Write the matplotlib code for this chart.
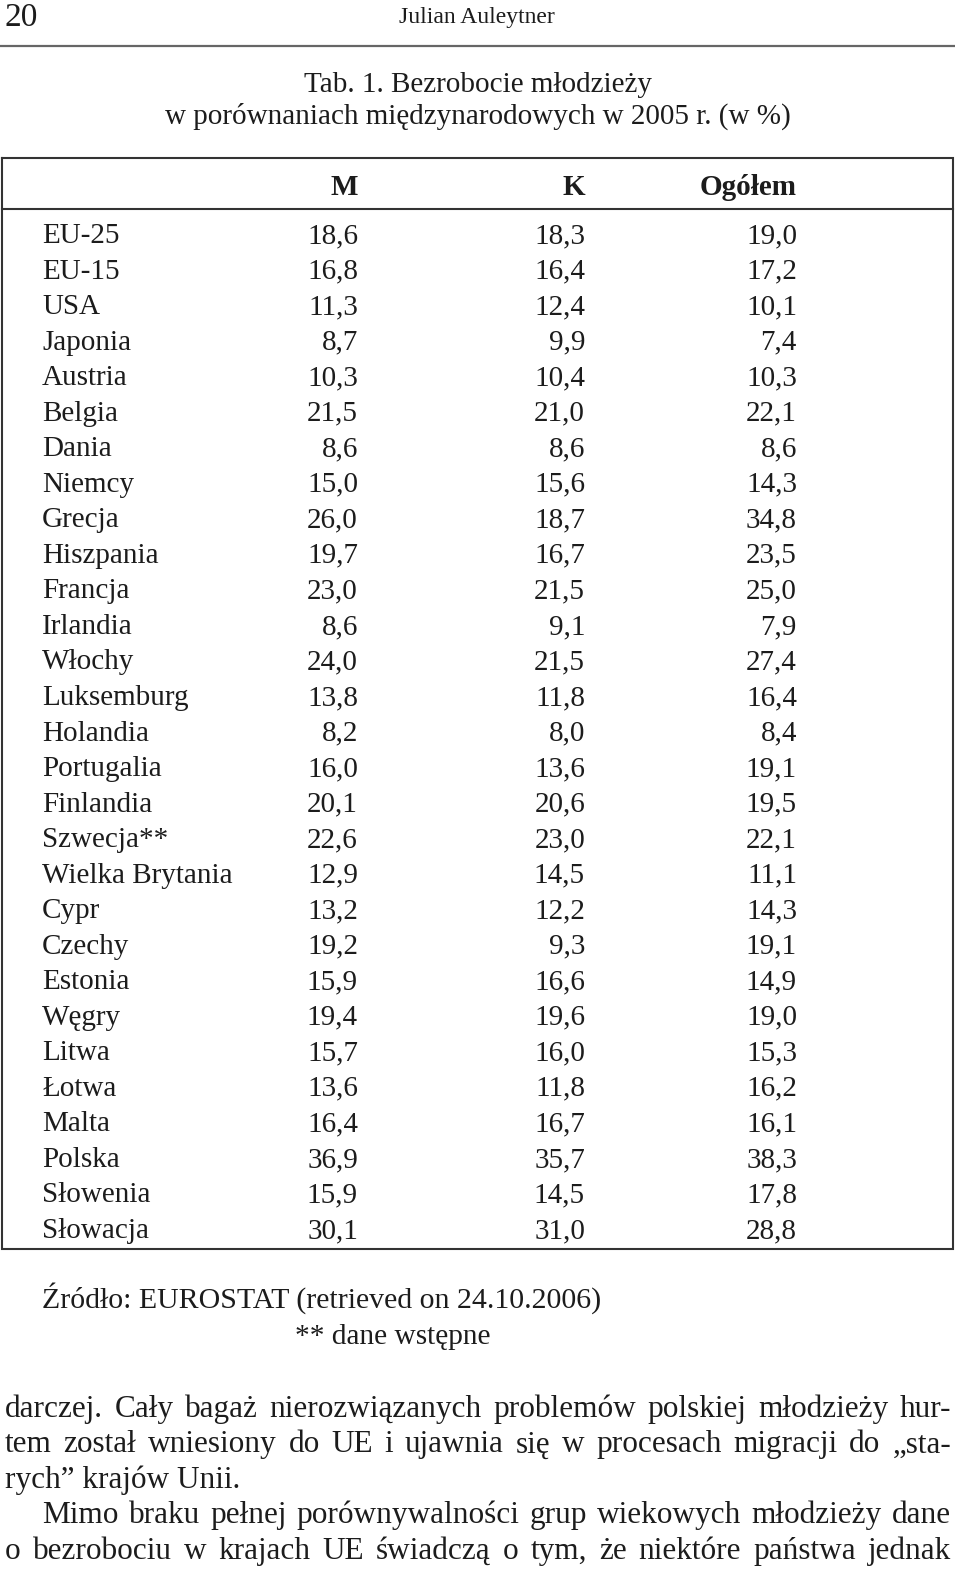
import matplotlib
matplotlib.use("Agg")
import matplotlib.pyplot as plt

# ---------------- data ----------------
page_number = "20"
running_head = "Julian Auleytner"
title_lines = ["Tab. 1. Bezrobocie młodzieży",
               "w porównaniach międzynarodowych w 2005 r. (w %)"]
col_headers = ["M", "K", "Ogółem"]
countries = ["EU-25", "EU-15", "USA", "Japonia", "Austria", "Belgia", "Dania",
             "Niemcy", "Grecja", "Hiszpania", "Francja", "Irlandia", "Włochy",
             "Luksemburg", "Holandia", "Portugalia", "Finlandia", "Szwecja**",
             "Wielka Brytania", "Cypr", "Czechy", "Estonia", "Węgry", "Litwa",
             "Łotwa", "Malta", "Polska", "Słowenia", "Słowacja"]
m_vals = [18.6, 16.8, 11.3, 8.7, 10.3, 21.5, 8.6, 15.0, 26.0, 19.7, 23.0, 8.6,
          24.0, 13.8, 8.2, 16.0, 20.1, 22.6, 12.9, 13.2, 19.2, 15.9, 19.4, 15.7,
          13.6, 16.4, 36.9, 15.9, 30.1]
k_vals = [18.3, 16.4, 12.4, 9.9, 10.4, 21.0, 8.6, 15.6, 18.7, 16.7, 21.5, 9.1,
          21.5, 11.8, 8.0, 13.6, 20.6, 23.0, 14.5, 12.2, 9.3, 16.6, 19.6, 16.0,
          11.8, 16.7, 35.7, 14.5, 31.0]
total_vals = [19.0, 17.2, 10.1, 7.4, 10.3, 22.1, 8.6, 14.3, 34.8, 23.5, 25.0,
              7.9, 27.4, 16.4, 8.4, 19.1, 19.5, 22.1, 11.1, 14.3, 19.1, 14.9,
              19.0, 15.3, 16.2, 16.1, 38.3, 17.8, 28.8]
source_text = "Źródło: EUROSTAT (retrieved on 24.10.2006)"
note_text = "** dane wstępne"
body_lines = [
    "darczej. Cały bagaż nierozwiązanych problemów polskiej młodzieży hur-",
    "tem został wniesiony do UE i ujawnia się w procesach migracji do „sta-",
    "rych” krajów Unii.",
    "Mimo braku pełnej porównywalności grup wiekowych młodzieży dane",
    "o bezrobociu w krajach UE świadczą o tym, że niektóre państwa jednak",
]
body_justify = [True, True, False, True, True]
body_indent = [5, 5, 5, 42, 5]

# ---------------- style ----------------
FONT = "Liberation Serif"
INK = "#1c1c1c"
FS = 21
FS_BODY = 22.5

fig = plt.figure(figsize=(9.6, 15.71), dpi=100)
ax = fig.add_axes([0, 0, 1, 1])
ax.set_xlim(0, 960)
ax.set_ylim(1571, 0)
ax.axis("off")

def txt(x, y, s, size=FS, ha="left", weight="normal"):
    return ax.text(x, y, s, fontsize=size, ha=ha, va="baseline",
                   family=FONT, color=INK, fontweight=weight)

# running head
txt(5, 26, page_number, size=24)
txt(477, 23, running_head, size=17, ha="center")
ax.plot([0, 955], [46, 46], color="#666666", lw=1.6, solid_capstyle="butt")

# title
txt(478, 92, title_lines[0], ha="center")
txt(478, 124, title_lines[1], ha="center")

# table frame
ax.plot([2, 953, 953, 2, 2], [158, 158, 1249, 1249, 158], color="#333333",
        lw=1.5, solid_joinstyle="miter")
ax.plot([2, 953], [209, 209], color="#333333", lw=1.5)

right_edges = [358, 585, 797]
for h, xr in zip(col_headers, right_edges):
    txt(xr, 195, h, ha="right", weight="bold")

row0, step = 243.0, (1238.0 - 243.0) / (len(countries) - 1)
fmt = lambda v: f"{v:.1f}".replace(".", ",")
for i, c in enumerate(countries):
    y = row0 + i * step
    txt(42, y, c)
    for vals, xr in zip((m_vals, k_vals, total_vals), right_edges):
        txt(xr, y, fmt(vals[i]), ha="right")

# source notes
txt(42, 1308, source_text, size=21.5)
txt(295, 1344, note_text, size=21.2)

# body paragraph (justified)
fig.canvas.draw()
renderer = fig.canvas.get_renderer()
right_margin = 951
base_y = 1417
line_step = 35.4
for li, (line, just, x0) in enumerate(zip(body_lines, body_justify, body_indent)):
    y = base_y + li * line_step
    if not just:
        txt(x0, y, line, size=FS_BODY)
        continue
    words = line.split(" ")
    texts = [txt(0, y, w, size=FS_BODY) for w in words]
    widths = [t.get_window_extent(renderer).width for t in texts]
    gap = (right_margin - x0 - sum(widths)) / (len(words) - 1)
    x = x0
    for t, w in zip(texts, widths):
        t.set_x(x)
        x += w + gap

fig.savefig("out.png", dpi=100, facecolor="white")
